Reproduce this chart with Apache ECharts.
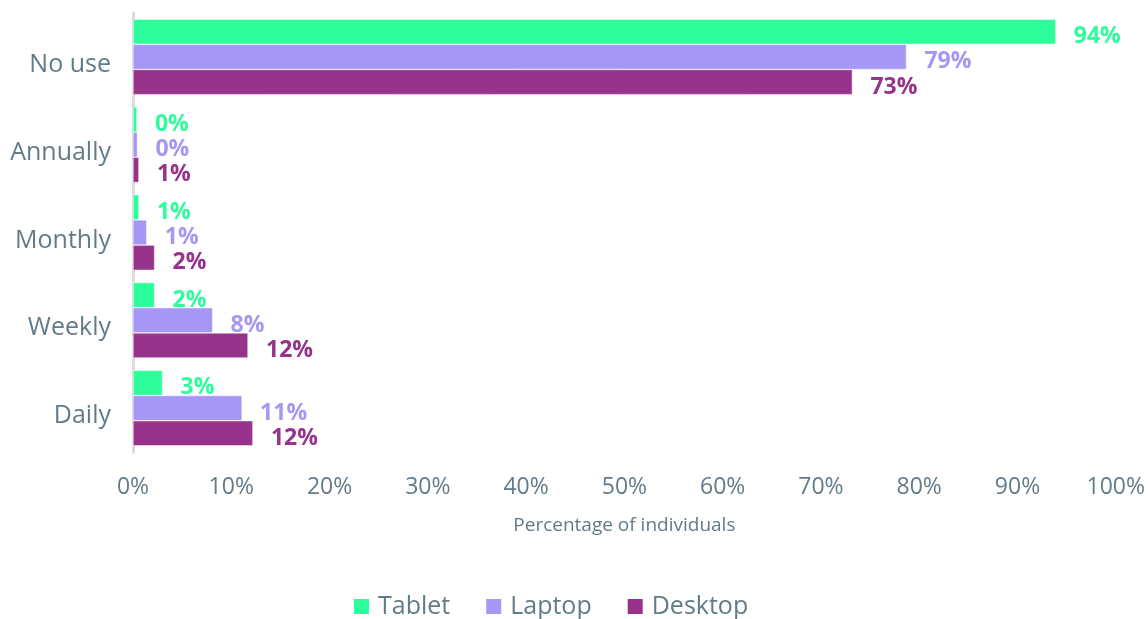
<!DOCTYPE html>
<html>
<head>
<meta charset="utf-8">
<script src="https://cdn.jsdelivr.net/npm/echarts@6/dist/echarts.min.js"></script>
<style>
  html, body { margin: 0; padding: 0; background: #fff; }
  #container { width: 1148px; height: 619px; }
</style>
</head>
<body>
<div id="container"></div>
<script>
// data
var categories = ['No use', 'Annually', 'Monthly', 'Weekly', 'Daily'];
var seriesNames = ['Tablet', 'Laptop', 'Desktop'];
var tabletValues = [93.9, 0.4, 0.6, 2.2, 3.0];
var laptopValues = [78.7, 0.45, 1.4, 8.1, 11.1];
var desktopValues = [73.2, 0.6, 2.2, 11.7, 12.2];
var seriesColors = ['#2efd9c', '#a697f5', '#97338b'];

var textColor = '#627b89';
var fontName = '"Open Sans", "Noto Sans", sans-serif';

function makeSeries(name, values, color) {
    return {
        name: name,
        type: 'bar',
        data: values,
        barGap: '0%',
        barCategoryGap: '14%',
        itemStyle: {
            color: color,
            borderColor: '#fff',
            borderWidth: 0.5
        },
        label: {
            show: true,
            position: 'right',
            distance: 18,
            offset: [0, 5],
            color: color,
            fontFamily: fontName,
            fontWeight: 'bold',
            fontSize: 23,
            formatter: function (p) {
                return Math.round(p.value) + '%';
            }
        }
    };
}

var dom = document.getElementById('container');
var myChart = echarts.init(dom, null, { renderer: 'canvas' });

var option = {
    animation: false,
    color: seriesColors,
    grid: {
        left: 133,
        right: 31,
        top: 13,
        bottom: 167
    },
    legend: {
        bottom: -5,
        left: 347,
        itemWidth: 17,
        itemHeight: 17,
        itemGap: 34,
        icon: 'rect',
        textStyle: {
            color: textColor,
            fontFamily: fontName,
            fontSize: 25,
            padding: [0, 0, 0, 3]
        },
        data: seriesNames
    },
    xAxis: {
        type: 'value',
        min: 0,
        max: 100,
        interval: 10,
        name: 'Percentage of individuals',
        nameLocation: 'middle',
        nameGap: 64,
        nameTextStyle: {
            color: textColor,
            fontFamily: fontName,
            fontSize: 19
        },
        axisLine: { show: false },
        axisTick: { show: false },
        splitLine: { show: false },
        axisLabel: {
            margin: 24,
            color: textColor,
            fontFamily: fontName,
            fontSize: 23,
            formatter: '{value}%'
        }
    },
    yAxis: {
        type: 'category',
        inverse: true,
        data: categories,
        axisLine: {
            show: true,
            lineStyle: { color: '#dcdcdc', width: 3 }
        },
        axisTick: { show: false },
        axisLabel: {
            margin: 22,
            verticalAlign: 'top',
            lineHeight: 16,
            color: textColor,
            fontFamily: fontName,
            fontSize: 25
        }
    },
    series: [
        makeSeries(seriesNames[0], tabletValues, seriesColors[0]),
        makeSeries(seriesNames[1], laptopValues, seriesColors[1]),
        makeSeries(seriesNames[2], desktopValues, seriesColors[2])
    ]
};

myChart.setOption(option);
window.addEventListener('resize', myChart.resize);
</script>
</body>
</html>
